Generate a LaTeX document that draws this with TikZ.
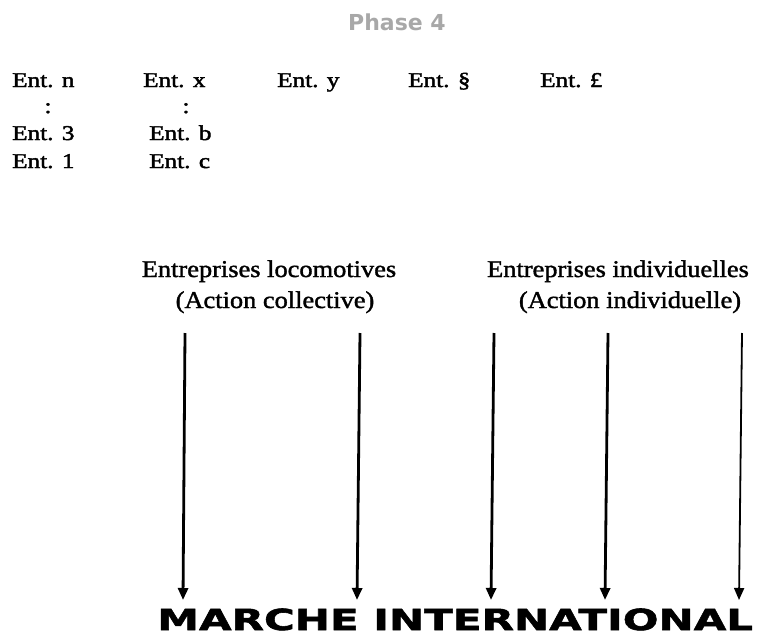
\documentclass[tikz,border=0pt]{standalone}
\usepackage{fontspec}
\usetikzlibrary{%
    arrows.meta,
    positioning
}
\newfontfamily\entfont[FakeStretch=1.2,FakeBold=2]{Liberation Serif}
\newfontfamily\groupfont[FakeStretch=1.1,FakeBold=1.5]{Liberation Serif}
\newfontfamily\phasefont{DejaVu Sans}
\newfontfamily\marketfont[FakeStretch=1.45,FakeBold=2]{DejaVu Sans}
\definecolor{phasegray}{HTML}{A8A8A8}
\tikzset{
    ent/.style = {inner sep=0pt, anchor=base west, font=\entfont\fontsize{21}{25}\selectfont},
    grouplabel/.style = {inner sep=0pt, anchor=base, font=\groupfont\fontsize{24}{28}\selectfont},
    marketarrow/.style = {line width=2.8pt, -{Triangle[length=12pt,width=10pt]}}
}

\begin{document}
\begin{tikzpicture}[x=1pt,y=-1pt]
    \useasboundingbox (0,0) rectangle (771,637);

    \node[inner sep=0pt, anchor=base, text=phasegray,
          font=\phasefont\bfseries\fontsize{22}{26}\selectfont] (phase) at (397,30) {Phase 4};

    % first row of firms
    \foreach \name/\txt/\x in {n/Ent. n/12, x/Ent. x/143, y/Ent. y/277, s/Ent. §/408, l/Ent. £/540}
        \node[ent] (ent-\name) at (\x,87) {\txt};

    \node[ent, anchor=base] (dots-n) at (48,113) {:};
    \node[ent, anchor=base] (dots-x) at (186,113) {:};

    \node[ent] (ent-3) at (12,140) {Ent. 3};
    \node[ent] (ent-1) at (12,168) {Ent. 1};
    \node[ent] (ent-b) at (149,140) {Ent. b};
    \node[ent] (ent-c) at (149,168) {Ent. c};

    \node[grouplabel] (loco)      at (269,277) {Entreprises locomotives};
    \node[grouplabel] (loco-act)  at (275,308) {(Action collective)};
    \node[grouplabel] (indiv)     at (618,277) {Entreprises individuelles};
    \node[grouplabel] (indiv-act) at (630,308) {(Action individuelle)};

    \foreach \i/\xt/\xb in {1/185/183, 2/360/357, 3/494/491, 4/608/605, 5/742/739} {
        \coordinate (top-\i) at (\xt,333);
        \coordinate (tip-\i) at (\xb,600);
    }
    \foreach \i in {1,2,3,4}
        \draw[marketarrow] (top-\i) -- (tip-\i);
    \draw[marketarrow, line width=1.8pt] (top-5) -- (tip-5);

    \node[inner sep=0pt, anchor=base west,
          font=\marketfont\bfseries\fontsize{29}{34}\selectfont] (market) at (157,630) {MARCHE INTERNATIONAL};
\end{tikzpicture}
\end{document}
